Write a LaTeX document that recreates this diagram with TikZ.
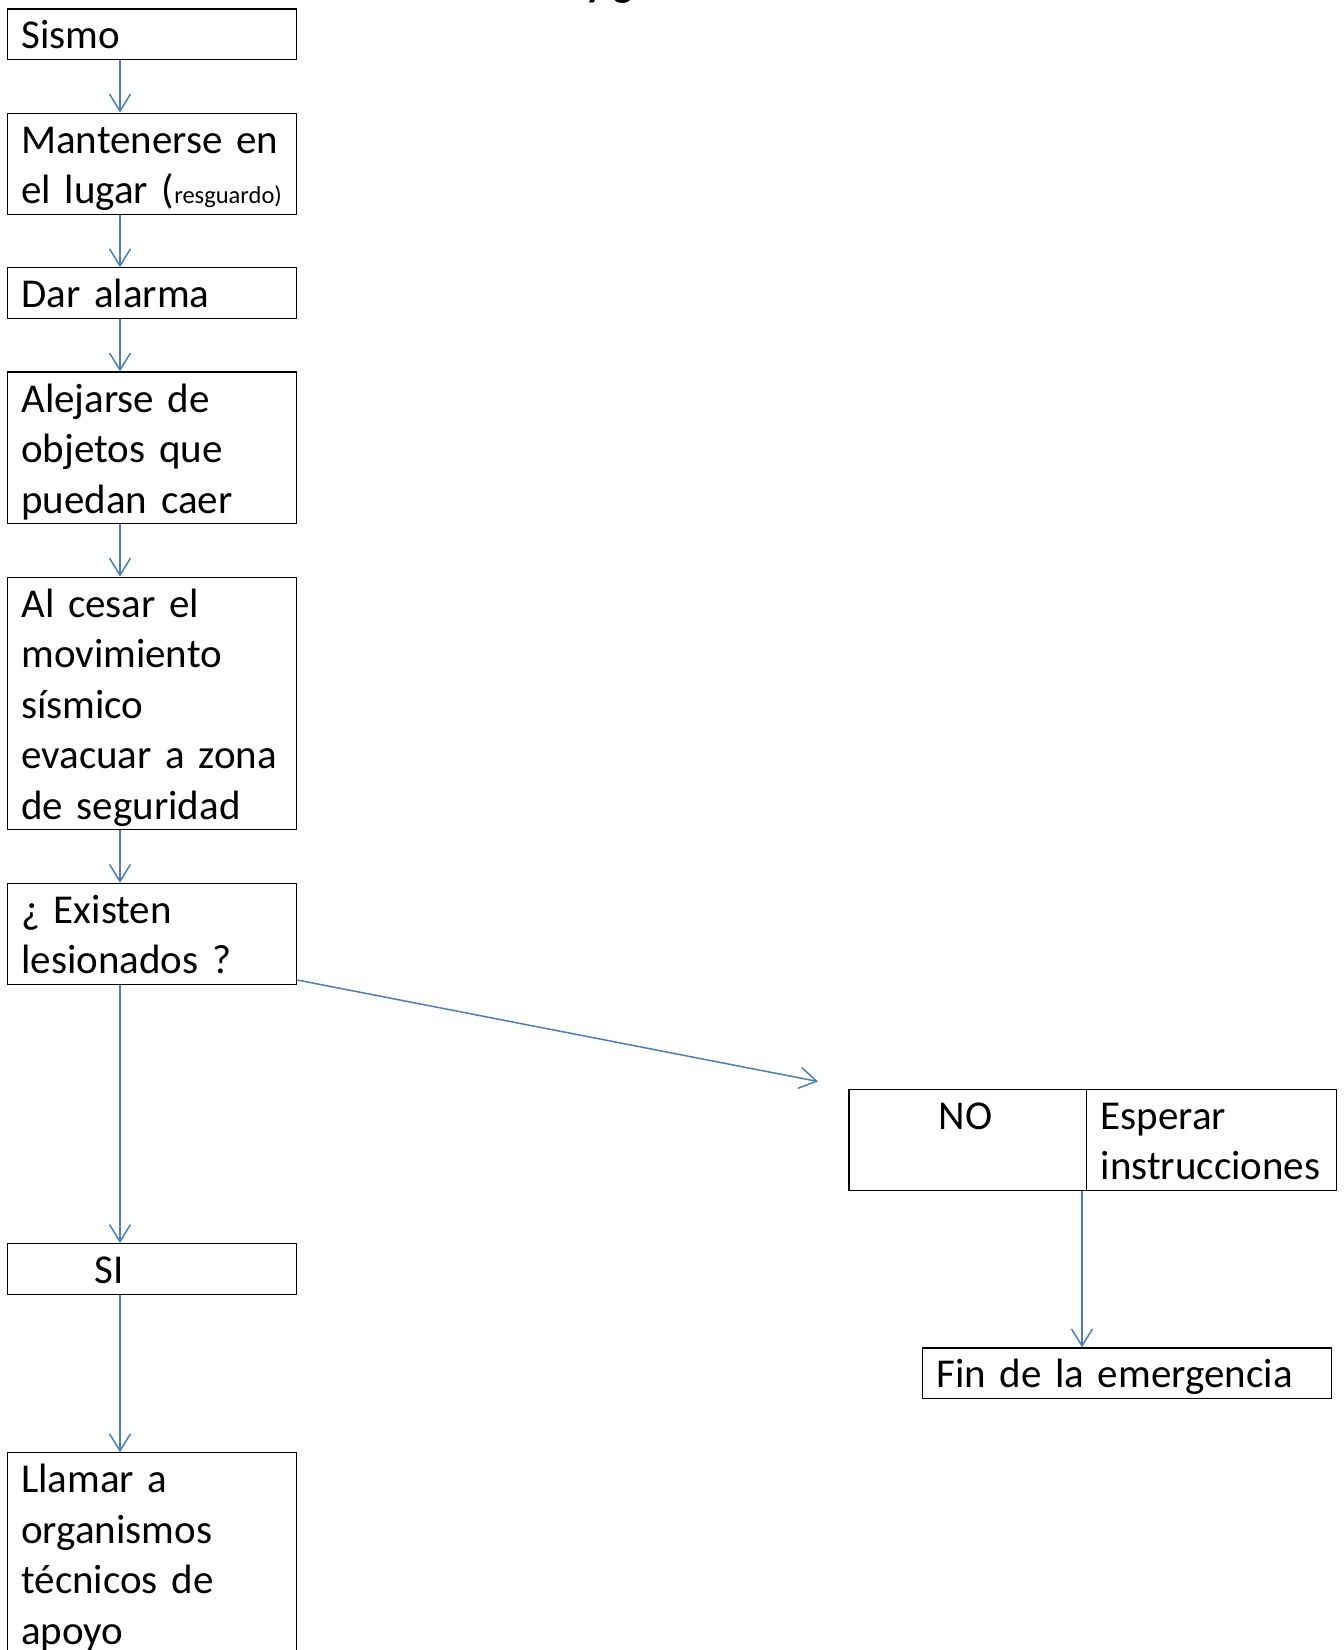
\documentclass[tikz,border=0pt]{standalone}
\usepackage{fontspec}
\setmainfont{Carlito}
\usepackage{tikz}
\usetikzlibrary{positioning}
\usetikzlibrary{arrows.meta}
\definecolor{flowblue}{HTML}{4A7EBB}
\newcommand{\boxstrut}{\rule[-10.5pt]{0pt}{50.5pt}}
\tikzstyle{stepbox}=[draw, line width=1.2pt, align=left, inner xsep=14pt, inner ysep=0pt, text width=261.4pt, font=\fontsize{41}{50.5}\selectfont, execute at begin node=\boxstrut, execute at end node=\boxstrut]
\tikzstyle{flow}=[draw=flowblue, line width=1.5pt, -{Straight Barb[length=17pt,width=21pt]}]

\begin{document}
\begin{tikzpicture}[x=1pt, y=-1pt]
            \useasboundingbox (0,0) rectangle (1344,1650);
            \clip (0,0) rectangle (1344,1650);

            \node[anchor=base west, inner sep=0pt, font=\bfseries\fontsize{41}{50}\selectfont] (titulo) at (585,-4) {y g};

            \node[stepbox, anchor=north west] (sismo) at (6.7,8.3) {Sismo};
            \node[stepbox, below=52.5pt of sismo] (lugar) {Mantenerse en\\el lugar ({\fontsize{24.5}{24.5}\selectfont resguardo)}};
            \node[stepbox, below=52.5pt of lugar] (alarma) {Dar alarma};
            \node[stepbox, below=52.5pt of alarma] (alejarse) {Alejarse de\\objetos que\\puedan caer};
            \node[stepbox, below=52.5pt of alejarse] (evacuar) {Al cesar el\\movimiento\\sísmico\\evacuar a zona\\de seguridad};
            \node[stepbox, below=52.5pt of evacuar] (existen) {¿ Existen\\lesionados ?};
            \node[stepbox, below=258pt of existen] (si) {\hspace*{73pt}SI};
            \node[stepbox, below=157.5pt of si] (llamar) {Llamar a\\organismos\\técnicos de\\apoyo};

            \node[stepbox, anchor=north west, text width=209.8pt] (no) at (848.3,1088.7) {\hspace*{76pt}NO\\\mbox{}};
            \node[stepbox, right=-1.2pt of no, text width=221.8pt] (esperar) {Esperar\\instrucciones};
            \node[stepbox, anchor=north west, text width=381.4pt] (fin) at (921.7,1347.3) {Fin de la emergencia};

            \coordinate (col) at (120,0);
            \coordinate (colr) at (1082,0);
            \coordinate (noflecha) at (818,1081.5);

            \draw[flow] (sismo.south -| col) -- (lugar.north -| col);
            \draw[flow] (lugar.south -| col) -- (alarma.north -| col);
            \draw[flow] (alarma.south -| col) -- (alejarse.north -| col);
            \draw[flow] (alejarse.south -| col) -- (evacuar.north -| col);
            \draw[flow] (evacuar.south -| col) -- (existen.north -| col);
            \draw[flow] (existen.south -| col) -- (si.north -| col);
            \draw[flow] (si.south -| col) -- (llamar.north -| col);

            \draw[flow] ([yshift=5pt]existen.south east) -- (noflecha);
            \draw[flow] (esperar.south -| colr) -- (fin.north -| colr);
        \end{tikzpicture}
\end{document}
